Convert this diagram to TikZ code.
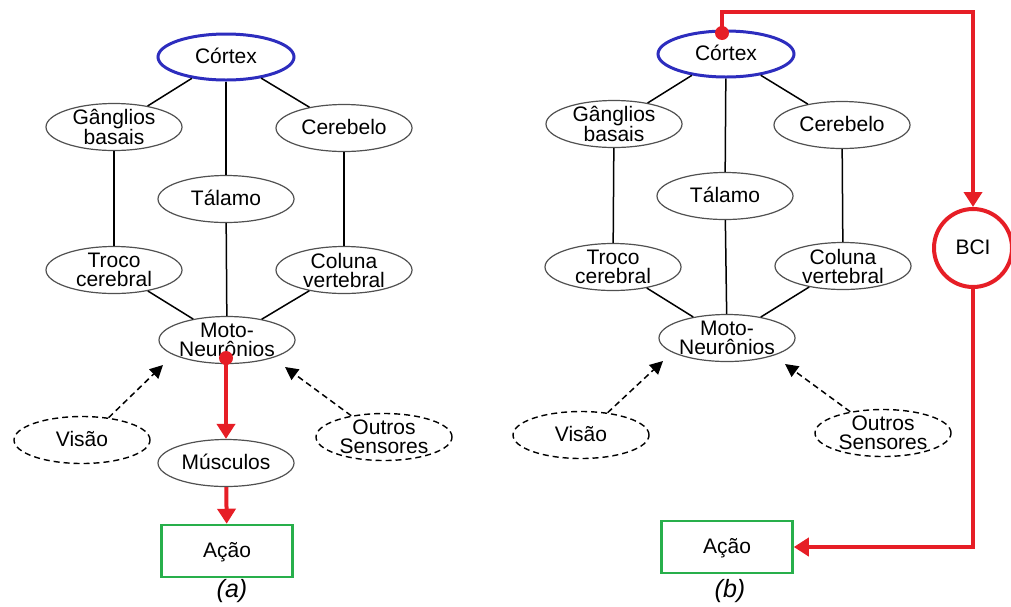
\documentclass[tikz,border=0pt]{standalone}
\usepackage{fontspec}
\setmainfont{Liberation Sans}
\usetikzlibrary{shapes.geometric,arrows.meta}
\definecolor{cortexblue}{RGB}{45,45,190}
\definecolor{bcired}{RGB}{230,30,38}
\definecolor{actgreen}{RGB}{40,175,75}
\definecolor{rim}{RGB}{80,80,80}
\begin{document}
\begin{tikzpicture}[x=1pt,y=-1pt,
  txt/.style={font=\fontsize{21}{19}\selectfont, align=center},
  oval/.style={txt, ellipse, draw=rim, line width=1.2pt, inner xsep=0pt, inner ysep=-5pt,
               minimum width=136pt, minimum height=47pt},
  one/.style={text height=12.5pt, text depth=0pt},
  cortex/.style={oval, draw=cortexblue, line width=3pt, minimum width=136pt, minimum height=46pt},
  sensor/.style={oval, draw=black, dash pattern=on 6pt off 4pt, line width=1.4pt},
  action/.style={txt, one, draw=actgreen, line width=2.5pt, minimum width=131pt,
                 minimum height=52pt, inner sep=0pt},
  bcinode/.style={txt, one, circle, draw=bcired, line width=4pt, minimum size=78pt, inner sep=0pt},
  link/.style={line width=1.5pt},
  feed/.style={line width=1.5pt, dash pattern=on 6pt off 4pt, -{Triangle[length=13pt,width=13pt]}},
  signal/.style={bcired, line width=4pt, -{Triangle[length=15pt,width=18pt]}},
  caption/.style={font=\fontsize{25}{25}\selectfont\itshape}
]
\useasboundingbox (0,0) rectangle (1011,606);

% ---------- (a) natural motor pathway ----------
\node[cortex,one] (cA)  at (226,57)  {Córtex};
\node[oval]       (gA)  at (114,127) {Gânglios\\basais};
\node[oval,one]   (ceA) at (344,128) {Cerebelo};
\node[oval,one]   (tA)  at (226,199) {Tálamo};
\node[oval]       (trA) at (114,270) {Troco\\cerebral};
\node[oval]       (coA) at (344,270) {Coluna\\vertebral};
\node[oval]       (mA)  at (227,340) {Moto-\\Neurônios};
\node[sensor,one] (vA)  at (82,440)  {Visão};
\node[sensor]     (oA)  at (384,437) {Outros\\Sensores};
\node[oval,one]   (muA) at (226,463) {Músculos};
\node[action]     (aA)  at (227,551) {Ação};
\node[caption]    (capA) at (232,591) {(a)};

\draw[link] (cA) -- (gA);
\draw[link] (cA) -- (tA);
\draw[link] (cA) -- (ceA);
\draw[link] (gA) -- (trA);
\draw[link] (ceA) -- (coA);
\draw[link] (tA) -- (mA);
\draw[link] (trA) -- (mA);
\draw[link] (coA) -- (mA);

\coordinate (vtipA) at (163,365);
\coordinate (otipA) at (285,367);
\draw[feed] (vA.40) -- (vtipA);
\draw[feed] (oA.147) -- (otipA);

\coordinate (mdotA) at (226,358);
\fill[bcired] (mdotA) circle (7);
\draw[signal] (mdotA) -- (muA);
\draw[signal] (muA) -- (aA);

% ---------- (b) pathway through the BCI ----------
\node[cortex,one] (cB)  at (726,54)  {Córtex};
\node[oval]       (gB)  at (614,124) {Gânglios\\basais};
\node[oval,one]   (ceB) at (842,125) {Cerebelo};
\node[oval,one]   (tB)  at (725,196) {Tálamo};
\node[oval]       (trB) at (613,267) {Troco\\cerebral};
\node[oval]       (coB) at (843,266) {Coluna\\vertebral};
\node[oval]       (mB)  at (727,338) {Moto-\\Neurônios};
\node[sensor,one] (vB)  at (581,435) {Visão};
\node[sensor]     (oB)  at (883,433) {Outros\\Sensores};
\node[action]     (aB)  at (727,547) {Ação};
\node[caption]    (capB) at (730,591) {(b)};
\node[bcinode]    (bci) at (973,248) {BCI};

\draw[link] (cB) -- (gB);
\draw[link] (cB) -- (tB);
\draw[link] (cB) -- (ceB);
\draw[link] (gB) -- (trB);
\draw[link] (ceB) -- (coB);
\draw[link] (tB) -- (mB);
\draw[link] (trB) -- (mB);
\draw[link] (coB) -- (mB);

\coordinate (vtipB) at (663,361);
\coordinate (otipB) at (785,364);
\draw[feed] (vB.40) -- (vtipB);
\draw[feed] (oB.147) -- (otipB);

\coordinate (cdotB) at (722,33);
\coordinate (bendB) at (722,12);
\draw[signal] (cdotB) -- (bendB) -| (bci);
\fill[bcired] (cdotB) circle (7);
\draw[signal] (bci) |- (aB);
\end{tikzpicture}
\end{document}
